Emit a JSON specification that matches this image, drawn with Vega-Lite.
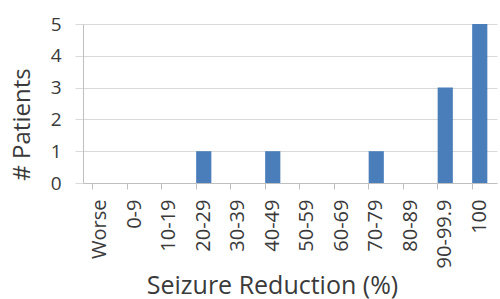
{
  "$schema": "https://vega.github.io/schema/vega-lite/v6.json",
  "width": 414,
  "height": 159,
  "autosize": {"type": "none"},
  "padding": {"left": 83, "top": 24, "right": 3, "bottom": 116},
  "background": "white",
  "config": {
    "view": {"stroke": null},
    "font": "Open Sans",
    "axis": {"labelColor": "#3a3a3a", "titleColor": "#3a3a3a", "titleFontWeight": "normal"}
  },
  "data": {
    "values": [
      {"range": "Worse", "patients": 0},
      {"range": "0-9", "patients": 0},
      {"range": "10-19", "patients": 0},
      {"range": "20-29", "patients": 1},
      {"range": "30-39", "patients": 0},
      {"range": "40-49", "patients": 1},
      {"range": "50-59", "patients": 0},
      {"range": "60-69", "patients": 0},
      {"range": "70-79", "patients": 1},
      {"range": "80-89", "patients": 0},
      {"range": "90-99.9", "patients": 3},
      {"range": "100", "patients": 5}
    ]
  },
  "mark": {"type": "bar", "color": "#4a7ebb"},
  "encoding": {
    "x": {
      "field": "range",
      "type": "nominal",
      "sort": null,
      "scale": {"paddingInner": 0.56, "paddingOuter": 0.28},
      "axis": {
        "title": "Seizure Reduction (%)",
        "titleFontSize": 25,
        "titleX": 189,
        "titleY": 110,
        "titleBaseline": "alphabetic",
        "labelAngle": -90,
        "labelFontSize": 20,
        "labelPadding": 10,
        "bandPosition": 0,
        "ticks": true,
        "tickSize": 6,
        "tickColor": "#bfbfbf",
        "domainColor": "#bfbfbf",
        "grid": false
      }
    },
    "y": {
      "field": "patients",
      "type": "quantitative",
      "scale": {"domain": [0, 5], "nice": false},
      "axis": {
        "title": "# Patients",
        "titleFontSize": 24,
        "titleX": -61,
        "titleY": 100,
        "titleAlign": "center",
        "titleBaseline": "middle",
        "titleAngle": -90,
        "values": [0, 1, 2, 3, 4, 5],
        "labelFontSize": 19,
        "labelPadding": 14,
        "tickSize": 8,
        "tickColor": "#d9d9d9",
        "domainColor": "#bfbfbf",
        "gridColor": "#d9d9d9",
        "grid": true
      }
    }
  }
}
